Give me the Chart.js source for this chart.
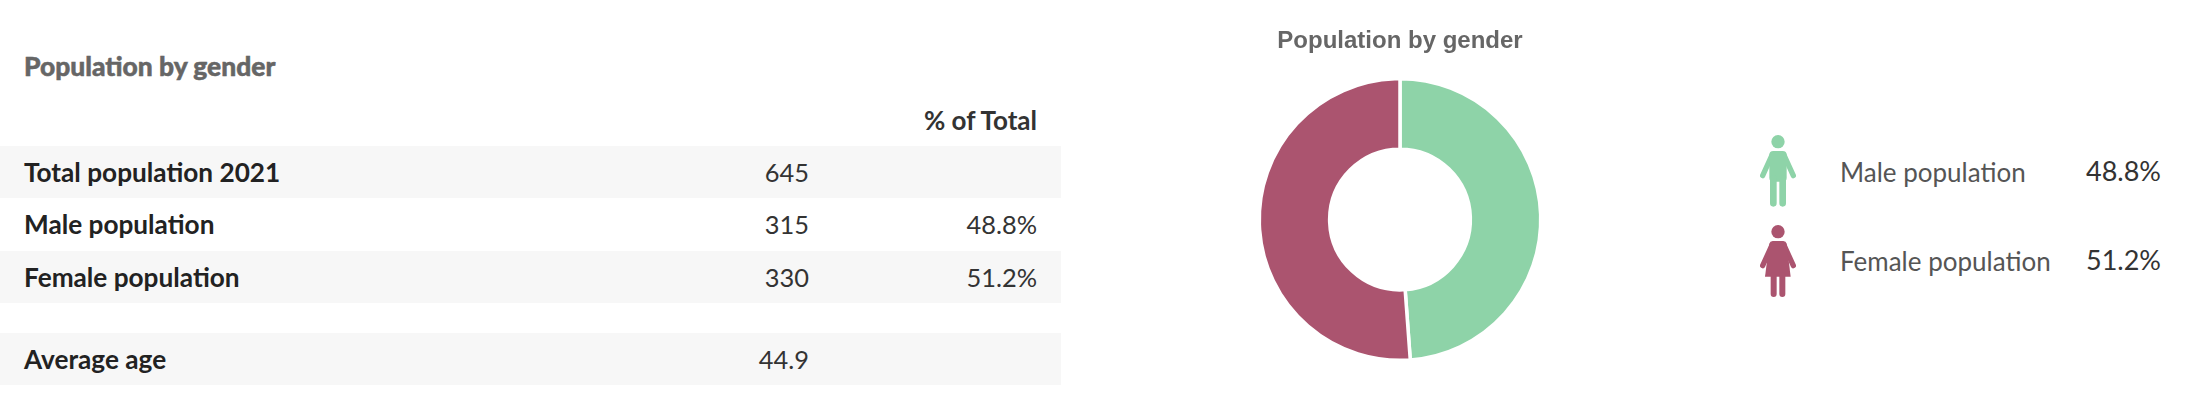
<!DOCTYPE html>
<html><head><meta charset="utf-8">
<script src="https://cdn.jsdelivr.net/npm/chart.js@4"></script>
<style>
html,body{margin:0;padding:0;background:#fff;width:2204px;height:408px;overflow:hidden;font-family:Lato,sans-serif}
.t{position:absolute;white-space:nowrap;line-height:30px;height:30px}
.band{position:absolute;left:0;width:1061px;height:52px;background:#f7f7f7}
#wrap{position:absolute;left:1200px;top:0;width:400px;height:408px}
svg{position:absolute}
</style></head><body>
<div id="page"></div>
<div id="wrap"><canvas id="c" width="400" height="408"></canvas></div>
<script>
const tableTitle = "Population by gender";
const columnHeader = "% of Total";
const rowLabels = ["Total population 2021","Male population","Female population","Average age"];
const rowValues = ["645","315","330","44.9"];
const rowShares = ["","48.8%","51.2%",""];
const categories = ["Male population","Female population"];
const values = [315,330];
const shares = ["48.8%","51.2%"];
const colors = ["#8ed3a8","#ab546f"];

const page = document.getElementById('page');
function txt(s,css){const d=document.createElement('div');d.className='t';d.textContent=s;d.style.cssText=css;page.appendChild(d);}
[146,251,333].forEach(y=>{const b=document.createElement('div');b.className='band';b.style.top=y+'px';page.appendChild(b);});
txt(tableTitle,'left:24px;top:51px;font-size:26.4px;font-weight:900;color:#666;-webkit-text-stroke:0.5px #666');
txt(columnHeader,'right:1167px;top:105px;font-size:26px;font-weight:700;color:#333');
const rowY=[157,209,262,344];
rowLabels.forEach((l,i)=>{
  txt(l,`left:24px;top:${rowY[i]}px;font-size:26.2px;font-weight:700;color:#222`);
  txt(rowValues[i],`right:1395px;top:${rowY[i]}px;font-size:25.4px;color:#333`);
  if(rowShares[i]) txt(rowShares[i],`right:1167px;top:${rowY[i]}px;font-size:25.4px;color:#333`);
});
function icon(kind,color,x,y){
  const arms='<path d="M36 60 L8 122 M72 60 L100 122" stroke="'+color+'" stroke-width="16" stroke-linecap="round" fill="none"/>';
  const head='<circle cx="54" cy="20" r="20" fill="'+color+'"/>';
  const body = kind==='m'
   ? '<rect x="28" y="48" width="52" height="92" rx="12" fill="'+color+'"/><path d="M40 130 V205 M68 130 V205" stroke="'+color+'" stroke-width="20" stroke-linecap="round"/>'
   : '<path d="M38 48 H70 Q78 48 80 56 L92 155 H15 L28 56 Q30 48 38 48Z" fill="'+color+'"/><path d="M41 150 V207 M67 150 V207" stroke="'+color+'" stroke-width="18" stroke-linecap="round"/>';
  const w=document.createElement('div');
  w.innerHTML=`<svg style="left:${x}px;top:${y}px" width="36" height="72" viewBox="0 0 108 216">${arms}${head}${body}</svg>`;
  page.appendChild(w);
}
icon('m',colors[0],1760,135);
icon('f',colors[1],1760,225);
categories.forEach((c,i)=>{
  const y=[157,246][i];
  txt(c,`left:1840px;top:${y}px;font-size:26px;color:#555`);
  txt(shares[i],`right:43px;top:${y-1}px;font-size:27px;color:#333`);
});
new Chart(document.getElementById('c'),{
  type:'doughnut',
  data:{labels:categories,datasets:[{data:values,backgroundColor:colors,borderColor:'#fff',borderWidth:3.5,hoverOffset:0}]},
  options:{
    responsive:false,animation:false,cutout:'50%',
    layout:{padding:{top:0,bottom:46,left:0,right:0}},
    plugins:{
      legend:{display:false},tooltip:{enabled:false},
      title:{display:true,text:tableTitle,color:'#666',font:{family:'"Liberation Sans"',size:24,weight:'bold',lineHeight:1.2},padding:{top:26.6,bottom:21.6}}
    }
  }
});
</script></body></html>
